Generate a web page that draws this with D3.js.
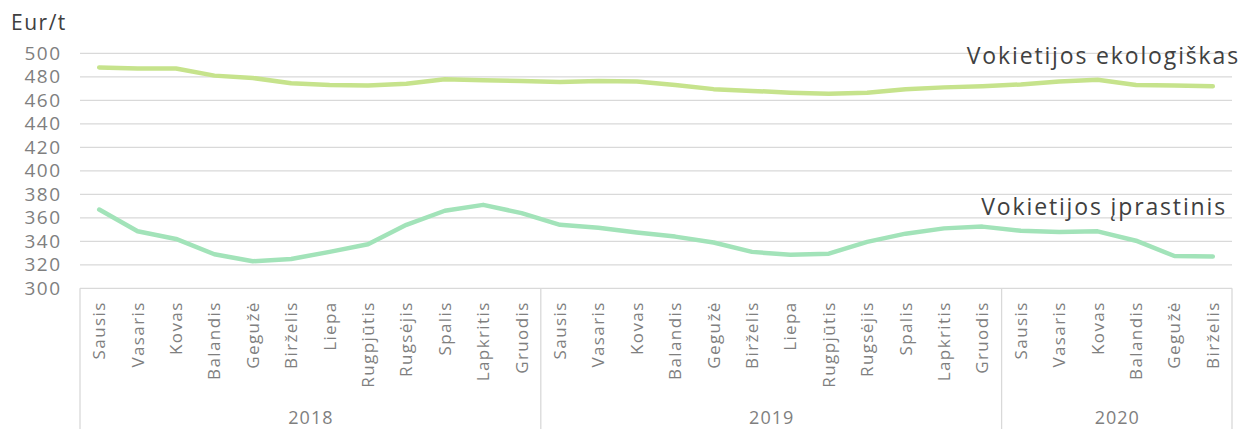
<!DOCTYPE html>
<html>
<head>
<meta charset="utf-8">
<script src="https://cdn.jsdelivr.net/npm/d3@7"></script>
<style>
  body { margin: 0; background: #fff; }
  svg { display: block; font-family: 'Open Sans', sans-serif; }
</style>
</head>
<body>
<div id="chart"></div>
<script>
// Data
const months = ['Sausis', 'Vasaris', 'Kovas', 'Balandis', 'Gegužė', 'Birželis', 'Liepa', 'Rugpjūtis', 'Rugsėjis', 'Spalis', 'Lapkritis', 'Gruodis'];
const years = ['2018', '2019', '2020'];
const monthsPerYear = [12, 12, 6];
const ecological = [488, 487, 487, 481, 479, 474.5, 473, 472.5, 474, 478, 477, 476.5,
                    475.5, 476.5, 476, 473, 469.5, 468, 466.5, 465.5, 466.5, 469.5, 471, 472,
                    473.5, 476, 477.5, 473, 472.5, 472];
const conventional = [367, 348.5, 342, 329, 323, 325, 331, 337.5, 354, 366, 371, 364,
                      354, 351.5, 347.5, 344, 339, 331, 328.5, 329.5, 339.5, 346.5, 351, 352.5,
                      349, 348, 348.5, 340.5, 327.5, 327];
const yTicks = [300, 320, 340, 360, 380, 400, 420, 440, 460, 480, 500];

// Build category list (year + month)
const categories = [];
years.forEach((yr, yi) => {
    for (let m = 0; m < monthsPerYear[yi]; m++) {
        categories.push({ key: yr + '-' + m, year: yr, month: months[m] });
    }
});

const W = 1242, H = 429;
const margin = { top: 53.3, right: 10, bottom: 140.7, left: 80 };
const width = W - margin.left - margin.right;
const height = H - margin.top - margin.bottom;

const svg = d3.select('#chart')
    .append('svg')
    .attr('width', W)
    .attr('height', H);

const g = svg.append('g')
    .attr('transform', `translate(${margin.left},${margin.top})`);

const x = d3.scaleBand()
    .domain(categories.map(d => d.key))
    .range([0, width])
    .padding(0);

const y = d3.scaleLinear()
    .domain([300, 500])
    .range([height, 0]);

// Gridlines
g.selectAll('.grid')
    .data(yTicks.filter(t => t > 300))
    .enter()
    .append('line')
    .attr('x1', 0)
    .attr('x2', width)
    .attr('y1', d => y(d))
    .attr('y2', d => y(d))
    .attr('stroke', '#d9d9d9')
    .attr('stroke-width', 1.3);

// Y axis labels
const yAxis = d3.axisLeft(y).tickValues(yTicks).tickSize(0).tickPadding(18.5);
const yAxisG = g.append('g').call(yAxis);
yAxisG.select('.domain').remove();
yAxisG.selectAll('text')
    .attr('fill', '#7f7f7f')
    .style('font-size', '19px')
    .style('letter-spacing', '1.5px')
    .attr('font-family', "'Open Sans', sans-serif");

// Unit label
svg.append('text')
    .attr('x', 11)
    .attr('y', 30)
    .attr('fill', '#404040')
    .style('font-size', '21px')
    .style('letter-spacing', '1.5px')
    .text('Eur/t');

// X axis baseline
g.append('line')
    .attr('x1', 0)
    .attr('x2', width)
    .attr('y1', height)
    .attr('y2', height)
    .attr('stroke', '#d9d9d9')
    .attr('stroke-width', 1.3);

// Month labels
const xAxis = d3.axisBottom(x)
    .tickSize(0)
    .tickFormat(k => categories.find(c => c.key === k).month);
const xAxisG = g.append('g')
    .attr('transform', `translate(0,${height})`)
    .call(xAxis);
xAxisG.select('.domain').remove();
xAxisG.selectAll('text')
    .attr('transform', 'rotate(-90)')
    .attr('x', -13)
    .attr('y', 0)
    .attr('dy', '0.35em')
    .attr('text-anchor', 'end')
    .attr('fill', '#7f7f7f')
    .attr('font-family', "'Open Sans', sans-serif")
    .style('font-size', '17px')
    .style('letter-spacing', '1.4px');

// Year group separators and labels
let start = 0;
const groups = years.map((yr, i) => {
    const grp = { year: yr, first: categories[start].key, last: categories[start + monthsPerYear[i] - 1].key };
    start += monthsPerYear[i];
    return grp;
});
const sepX = [0].concat(groups.map(gr => x(gr.last) + x.bandwidth()));
g.selectAll('.sep')
    .data(sepX)
    .enter()
    .append('line')
    .attr('x1', d => d)
    .attr('x2', d => d)
    .attr('y1', height)
    .attr('y2', H - margin.top)
    .attr('stroke', '#d9d9d9')
    .attr('stroke-width', 1.3);

g.selectAll('.year')
    .data(groups)
    .enter()
    .append('text')
    .attr('x', d => (x(d.first) + x(d.last) + x.bandwidth()) / 2 + 0.5)
    .attr('y', height + 136)
    .attr('text-anchor', 'middle')
    .attr('fill', '#7f7f7f')
    .style('font-size', '18px')
    .style('letter-spacing', '1px')
    .text(d => d.year);

// Lines
const line = d3.line()
    .x((d, i) => x(categories[i].key) + x.bandwidth() / 2)
    .y(d => y(d));

g.append('path')
    .datum(ecological)
    .attr('fill', 'none')
    .attr('stroke', '#c6e38c')
    .attr('stroke-width', 4.5)
    .attr('stroke-linejoin', 'round')
    .attr('stroke-linecap', 'round')
    .attr('d', line);

g.append('path')
    .datum(conventional)
    .attr('fill', 'none')
    .attr('stroke', '#a2e3b9')
    .attr('stroke-width', 4.5)
    .attr('stroke-linejoin', 'round')
    .attr('stroke-linecap', 'round')
    .attr('d', line);

// Series labels
svg.append('text')
    .attr('x', 1240)
    .attr('y', 64)
    .attr('text-anchor', 'end')
    .attr('fill', '#404040')
    .style('font-size', '23px')
    .style('letter-spacing', '1.85px')
    .text('Vokietijos ekologiškas');

svg.append('text')
    .attr('x', 1227)
    .attr('y', 215)
    .attr('text-anchor', 'end')
    .attr('fill', '#404040')
    .style('font-size', '23px')
    .style('letter-spacing', '1.85px')
    .text('Vokietijos įprastinis');
</script>
</body>
</html>
